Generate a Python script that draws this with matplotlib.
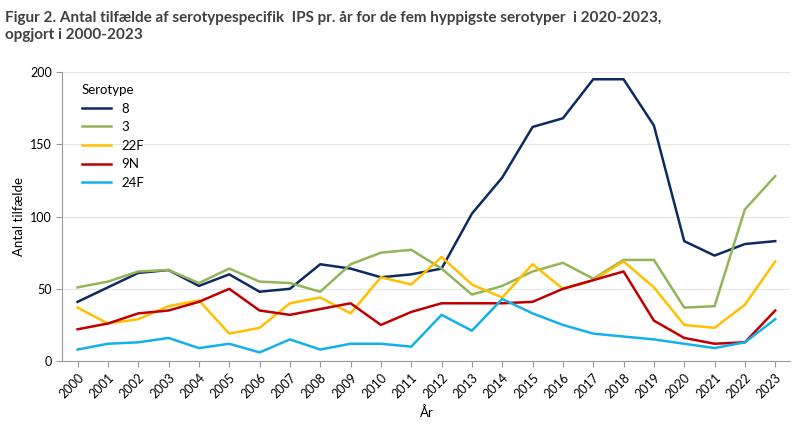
import matplotlib
matplotlib.use("Agg")
import matplotlib.pyplot as plt

years = list(range(2000, 2024))
s8 = [41, 51, 61, 63, 52, 60, 48, 50, 67, 64, 58, 60, 64, 102, 127, 162, 168, 195, 195, 163, 83, 73, 81, 83]
s3 = [51, 55, 62, 63, 54, 64, 55, 54, 48, 67, 75, 77, 64, 46, 52, 62, 68, 57, 70, 70, 37, 38, 105, 128]
s22f = [37, 26, 29, 38, 42, 19, 23, 40, 44, 33, 58, 53, 72, 53, 44, 67, 50, 56, 69, 51, 25, 23, 39, 69]
s9n = [22, 26, 33, 35, 41, 50, 35, 32, 36, 40, 25, 34, 40, 40, 40, 41, 50, 56, 62, 28, 16, 12, 13, 35]
s24f = [8, 12, 13, 16, 9, 12, 6, 15, 8, 12, 12, 10, 32, 21, 43, 33, 25, 19, 17, 15, 12, 9, 13, 29]

series = [("8", s8, "#0d2a61"), ("3", s3, "#93b55a"), ("22F", s22f, "#ffc000"),
          ("9N", s9n, "#c00000"), ("24F", s24f, "#13b1ea")]

plt.rcParams["font.family"] = "Lato"
fig = plt.figure(figsize=(8, 4.34), dpi=100)
ax = fig.add_axes([0.078, 0.168, 0.91, 0.666])
for name, vals, col in series:
    ax.plot(years, vals, color=col, lw=1.8, label=name)

ax.set_xlim(1999.5, 2023.5)
ax.set_ylim(0, 200)
ax.set_yticks([0, 50, 100, 150, 200])
ax.set_xticks(years)
ax.set_xticklabels([str(y) for y in years], rotation=45, ha="right", rotation_mode="anchor", fontsize=9)
ax.tick_params(axis="y", labelsize=9, length=4, color="#999999")
ax.tick_params(axis="x", length=4, color="#999999")
ax.grid(axis="y", color="#e6e6e6", lw=0.8)
ax.set_axisbelow(True)
for s in ["top", "right"]:
    ax.spines[s].set_visible(False)
for s in ["left", "bottom"]:
    ax.spines[s].set_color("#999999")
ax.set_ylabel("Antal tilfælde", fontsize=9.5)
ax.set_xlabel("År", fontsize=9.5)
leg = ax.legend(title="Serotype", loc="upper left", frameon=False, fontsize=9.5,
                title_fontsize=9.5, handlelength=2.2, bbox_to_anchor=(0.01, 1.0))
leg._legend_box.align = "left"

fig.text(0.006, 0.975, "Figur 2. Antal tilfælde af serotypespecifik  IPS pr. år for de fem hyppigste serotyper  i 2020-2023,\nopgjort i 2000-2023",
         fontsize=11, fontweight="bold", color="#404040", va="top", linespacing=1.3)
fig.savefig("out.png", dpi=100)
